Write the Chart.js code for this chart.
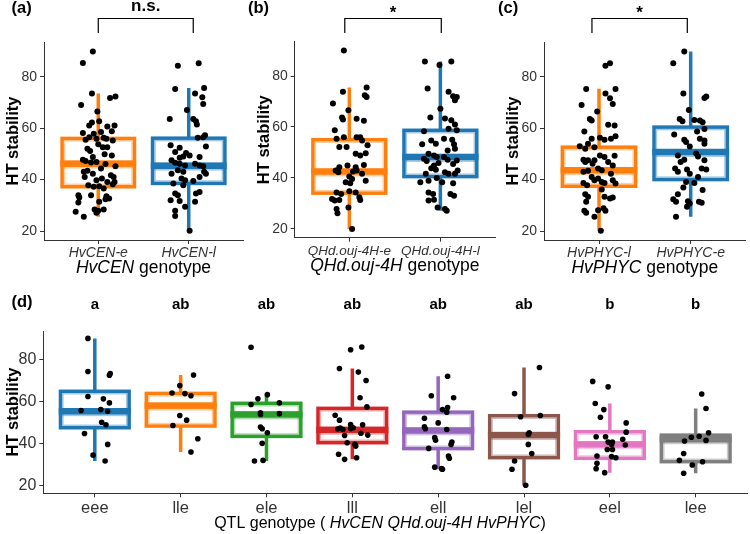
<!DOCTYPE html>
<html>
<head>
<meta charset="utf-8">
<script src="https://cdn.jsdelivr.net/npm/chart.js@4.4.1/dist/chart.umd.min.js"></script>
<style>
  body { margin: 0; background: #fff; }
  #wrap { position: relative; width: 750px; height: 534px; background: #fff; overflow: hidden; }
  canvas { position: absolute; }
</style>
</head>
<body>
<div id="wrap">
  <canvas id="pa" width="246" height="280" style="left:0;top:0"></canvas>
  <canvas id="pb" width="252" height="280" style="left:246px;top:0"></canvas>
  <canvas id="pc" width="254" height="280" style="left:496px;top:0"></canvas>
  <canvas id="pd" width="750" height="254" style="left:0;top:280px"></canvas>
</div>
<script>
// ---- data ----
const catsA = ['HvCEN-e', 'HvCEN-l'];
const catsB = ['QHd.ouj-4H-e', 'QHd.ouj-4H-l'];
const catsC = ['HvPHYC-l', 'HvPHYC-e'];
const catsD = ['eee', 'lle', 'ele', 'lll', 'ell', 'lel', 'eel', 'lee'];
const lettersD = ['a', 'ab', 'ab', 'ab', 'ab', 'ab', 'b', 'b'];
const yTicks = [20, 40, 60, 80];

// box summaries: lower whisker, Q1, median, Q3, upper whisker
const boxA = [[25.5, 37.2, 46.2, 56.0, 73.5], [20.1, 38.5, 45.4, 56.1, 75.6]];
const boxB = [[19.9, 34.0, 42.5, 55.0, 75.5], [27.1, 40.5, 48.2, 58.7, 85.7]];
const boxC = [[20.1, 37.4, 43.6, 52.6, 75.3], [25.5, 40.0, 50.7, 60.4, 89.8]];
const boxD = [
  [31.8, 47.6, 55.4, 64.9, 90.0],
  [36.1, 48.4, 58.1, 63.9, 72.6],
  [31.8, 43.5, 53.9, 59.2, 63.3],
  [32.6, 40.5, 46.6, 56.8, 75.7],
  [27.9, 37.7, 46.3, 55.0, 72.0],
  [20.3, 33.4, 44.1, 53.3, 76.2],
  [26.3, 33.1, 39.7, 45.7, 59.1],
  [26.0, 31.5, 42.1, 44.1, 56.7]
];

// individual HT stability values per group
const htA = [
  [89.8, 85.3, 73.5, 69.0, 66.5, 71.7, 72.3, 62.7, 62.2, 61.0,
   58.1, 60.6, 61.0, 58.8, 55.5, 56.5, 55.9, 56.3, 55.9, 55.2,
   52.0, 51.1, 52.6, 53.7, 49.8, 49.4, 47.7, 47.2, 46.6, 46.8,
   44.3, 45.2, 43.0, 43.4, 42.3, 41.7, 41.0, 40.4, 39.7, 39.1,
   38.2, 37.8, 37.2, 37.4, 36.5, 33.9, 33.0, 33.5, 32.6, 32.3,
   33.9, 31.1, 31.4, 27.5, 28.4, 27.9, 28.4, 27.1, 25.5, 58.5,
   57.8, 52.6, 48.8, 46.1, 41.0, 39.1],
  [84.3, 85.2, 75.2, 73.5, 75.6, 72.0, 69.4, 67.1, 63.6, 63.6,
   62.7, 61.4, 57.2, 56.5, 56.3, 52.9, 53.3, 52.4, 50.7, 50.3,
   49.4, 48.8, 48.5, 49.0, 47.5, 46.5, 46.2, 45.5, 46.2, 45.5,
   45.2, 43.6, 43.0, 43.0, 42.3, 42.3, 40.4, 39.7, 41.0, 39.4,
   38.5, 37.8, 35.2, 34.6, 34.6, 33.9, 32.0, 31.7, 31.4, 29.4,
   27.9, 25.8, 20.1]
];
const htB = [
  [90.0, 73.8, 75.5, 72.5, 71.8, 69.2, 66.6, 63.7, 62.9, 63.2,
   62.4, 58.7, 55.4, 56.0, 56.0, 56.0, 54.7, 52.8, 52.1, 52.1,
   49.5, 48.8, 49.7, 44.2, 44.9, 44.2, 45.1, 42.9, 42.2, 42.5,
   42.9, 41.6, 40.5, 39.6, 38.3, 37.9, 38.9, 34.3, 33.7, 34.7,
   34.3, 32.4, 31.3, 31.7, 31.1, 31.3, 28.4, 27.8, 26.1, 19.9],
  [85.7, 85.7, 84.3, 75.1, 73.8, 72.1, 71.8, 70.5, 67.2, 63.7,
   63.3, 62.6, 58.3, 61.0, 58.7, 59.3, 54.7, 53.4, 55.4, 55.0,
   53.2, 53.2, 50.8, 51.4, 49.5, 48.8, 48.2, 47.5, 46.6, 48.2,
   47.1, 45.8, 44.9, 45.5, 46.8, 43.8, 43.2, 42.2, 41.6, 41.6,
   42.9, 41.6, 40.0, 38.9, 38.3, 38.3, 37.9, 34.3, 33.7, 33.7,
   33.0, 31.1, 31.4, 28.4, 27.8, 27.1]
];
const htC = [
  [84.3, 85.2, 75.2, 75.2, 73.5, 71.6, 69.0, 69.4, 66.5, 63.6,
   63.0, 61.3, 61.0, 58.7, 55.9, 56.3, 55.5, 55.9, 56.8, 53.0,
   53.9, 52.0, 52.6, 49.4, 48.8, 49.3, 47.7, 46.8, 47.5, 47.5,
   46.2, 46.8, 45.5, 43.0, 43.4, 44.3, 43.6, 42.3, 38.7, 41.0,
   39.7, 40.4, 39.1, 38.7, 39.7, 38.5, 37.8, 36.1, 34.3, 33.3,
   33.3, 32.6, 33.0, 31.4, 27.9, 27.1, 28.1, 28.8, 27.9, 25.5,
   20.1],
  [89.8, 85.2, 73.5, 72.3, 71.7, 67.1, 63.6, 62.7, 63.2, 63.0,
   62.3, 59.7, 58.7, 57.5, 55.5, 54.6, 55.9, 55.2, 52.9, 53.9,
   49.4, 46.8, 50.1, 49.0, 47.7, 47.5, 44.3, 43.0, 43.9, 42.3,
   44.3, 43.9, 41.0, 39.1, 38.7, 36.9, 35.9, 34.3, 32.3, 31.4,
   31.6, 30.7, 31.4, 31.0, 29.4, 25.5]
];
const htD = [
  [90.0, 74.3, 72.5, 73.3, 62.4, 61.3, 59.4, 55.8, 56.2, 55.4, 50.2, 49.0, 44.9, 39.7, 34.6, 31.8],
  [72.6, 67.6, 64.1, 63.8, 62.8, 53.4, 51.2, 48.7, 42.4, 36.1],
  [85.8, 58.6, 61.3, 63.3, 54.7, 53.9, 59.4, 54.3, 47.9, 47.1, 45.2, 40.2, 31.8, 32.1],
  [84.6, 85.9, 75.7, 74.0, 70.0, 61.8, 57.5, 53.5, 51.2, 49.1, 49.0, 47.0, 47.4, 46.8, 47.2,
   47.6, 43.9, 45.0, 44.1, 40.5, 39.7, 38.9, 35.0, 32.6, 33.4],
  [72.0, 62.8, 61.8, 56.2, 55.0, 57.2, 52.1, 49.9, 48.0, 47.1, 46.8, 42.9, 41.7, 40.8, 39.7,
   37.8, 34.2, 33.1, 28.9, 28.2, 27.9],
  [76.2, 63.8, 52.8, 53.4, 44.4, 45.2, 39.7, 35.4, 31.8, 27.9, 20.3],
  [69.6, 67.0, 59.1, 56.2, 52.6, 49.9, 45.5, 43.3, 43.3, 42.1, 40.8, 40.8, 39.7, 39.4, 37.3,
   37.3, 33.4, 33.9, 34.2, 30.7, 28.2, 26.3],
  [63.6, 56.7, 45.2, 43.1, 43.6, 41.3, 41.6, 35.4, 32.1, 31.5, 29.9, 26.0]
];

// horizontal jitter of each dot, in category units (as seen in the figure)
const jitA = [
  [-0.06, -0.17, -0.07, -0.19, -0.01, 0.13, 0.19, 0.01, -0.07, -0.10,
   -0.17, 0.10, 0.18, 0.15, -0.14, -0.10, -0.02, 0.06, 0.09, 0.16,
   -0.12, -0.09, 0.05, 0.00, 0.07, 0.15, -0.17, -0.14, -0.08, -0.02,
   0.03, 0.19, -0.16, -0.12, -0.06, 0.14, 0.17, 0.04, -0.02, 0.18,
   0.16, -0.11, -0.05, 0.01, 0.06, -0.22, -0.21, 0.09, 0.12, 0.08,
   -0.08, -0.22, 0.01, -0.25, -0.04, 0.00, 0.06, -0.02, -0.16, 0.03,
   -0.05, 0.10, -0.06, 0.08, -0.15, 0.10],
  [-0.12, 0.11, -0.15, 0.07, 0.17, 0.15, 0.16, -0.02, -0.21, 0.05,
   0.08, 0.09, 0.18, 0.16, 0.10, 0.19, -0.20, -0.10, -0.15, -0.03,
   0.01, 0.12, -0.10, -0.06, -0.19, -0.15, -0.10, -0.04, 0.07, 0.12,
   0.16, -0.12, -0.06, 0.17, 0.19, -0.19, -0.08, -0.04, 0.12, 0.05,
   -0.17, -0.06, 0.12, 0.08, -0.15, -0.12, -0.20, -0.10, 0.07, -0.04,
   -0.15, -0.15, 0.01]
];
const jitB = [
  [-0.06, -0.07, 0.19, 0.17, 0.19, -0.18, -0.01, -0.08, -0.07, 0.08,
   0.16, -0.16, -0.14, -0.06, 0.08, 0.12, 0.14, 0.20, -0.11, -0.03,
   0.07, 0.12, 0.18, -0.11, -0.02, 0.07, 0.16, -0.15, -0.12, 0.04,
   0.08, 0.14, 0.00, 0.03, -0.04, 0.01, 0.18, -0.14, -0.09, 0.00,
   0.07, 0.11, 0.12, -0.19, -0.16, -0.11, -0.01, -0.14, -0.13, 0.03],
  [-0.17, 0.12, -0.01, -0.14, 0.09, 0.14, 0.18, 0.16, 0.00, -0.11,
   0.05, 0.12, -0.18, 0.16, 0.18, 0.09, -0.10, -0.05, 0.04, 0.13,
   -0.20, 0.15, 0.08, 0.16, -0.13, -0.07, -0.04, -0.18, -0.15, 0.04,
   0.08, -0.02, -0.07, 0.14, 0.18, -0.10, -0.05, 0.05, 0.09, 0.16,
   0.19, -0.16, -0.04, -0.13, -0.22, 0.02, 0.14, -0.13, -0.08, 0.11,
   0.15, -0.13, -0.07, -0.03, 0.05, 0.07]
];
const jitC = [
  [0.07, 0.12, -0.14, 0.18, 0.07, 0.12, -0.19, 0.15, -0.02, -0.10,
   -0.08, 0.10, 0.17, -0.16, -0.08, 0.01, 0.06, 0.13, 0.18, -0.21,
   -0.12, -0.15, -0.05, 0.01, 0.06, 0.17, -0.17, -0.15, -0.12, -0.05,
   -0.07, 0.10, 0.15, -0.17, -0.12, -0.01, 0.03, 0.13, -0.17, -0.08,
   -0.05, -0.01, 0.03, 0.06, 0.15, 0.18, -0.13, 0.03, -0.15, -0.12,
   0.06, 0.12, 0.15, -0.14, -0.16, -0.14, -0.01, 0.05, 0.07, -0.05,
   0.02],
  [-0.07, -0.19, -0.08, 0.17, 0.15, -0.02, -0.12, -0.09, 0.04, 0.10,
   0.13, 0.15, 0.07, -0.18, -0.07, -0.05, 0.10, 0.15, -0.01, 0.15,
   -0.14, -0.11, 0.06, 0.08, -0.07, 0.15, -0.17, -0.14, -0.04, -0.01,
   0.12, 0.17, 0.08, -0.05, 0.04, -0.08, 0.13, -0.14, -0.19, -0.16,
   -0.03, -0.01, 0.09, 0.12, -0.04, -0.16]
];
const jitD = [
  [-0.08, -0.08, 0.17, 0.18, -0.08, 0.10, 0.17, -0.16, 0.07, 0.15, 0.08, 0.13, -0.12, 0.15, -0.02, 0.12],
  [0.15, -0.01, -0.10, 0.05, 0.12, -0.01, 0.07, -0.09, 0.20, 0.12],
  [-0.18, -0.18, -0.10, 0.01, -0.07, -0.07, 0.15, 0.15, -0.07, -0.05, 0.01, -0.05, -0.14, -0.04],
  [-0.02, 0.11, -0.15, 0.07, 0.16, 0.09, 0.17, -0.20, -0.15, -0.02, 0.12, -0.17, -0.14, -0.11, -0.02,
   0.01, -0.09, 0.10, 0.18, -0.06, 0.03, 0.04, -0.16, -0.09, 0.05],
  [0.11, -0.08, 0.18, 0.05, 0.10, 0.11, -0.16, 0.00, -0.16, -0.15, 0.10, -0.04, -0.03, 0.16, 0.15,
   -0.11, 0.12, 0.13, -0.04, 0.04, 0.05],
  [0.18, -0.11, -0.04, 0.19, 0.05, 0.06, 0.05, 0.09, -0.11, -0.14, 0.02],
  [-0.20, -0.02, -0.17, -0.07, -0.11, 0.19, 0.19, -0.16, -0.05, 0.15, -0.02, 0.03, 0.02, 0.18, -0.03,
   0.03, 0.07, 0.02, -0.15, -0.15, -0.16, -0.06],
  [0.07, 0.12, 0.15, -0.05, 0.04, -0.13, 0.12, -0.14, -0.19, 0.08, -0.04, -0.14]
];

// ---- styling ----
const FAMILY = "'Liberation Sans', Arial, Helvetica, sans-serif";
const ORANGE = '#ff7f0e', BLUE = '#1f77b4';
const colorsD = ['#1f77b4', '#ff7f0e', '#2ca02c', '#d62728', '#9467bd', '#8c564b', '#e377c2', '#7f7f7f'];
const AXIS = '#333';

Chart.defaults.font.family = FAMILY;
Chart.defaults.color = AXIS;

function light(hex) {
  const r = parseInt(hex.slice(1, 3), 16), g = parseInt(hex.slice(3, 5), 16), b = parseInt(hex.slice(5, 7), 16);
  return 'rgba(' + r + ',' + g + ',' + b + ',0.4)';
}

// boxes and whiskers, drawn under the dots through the chart's scales
function boxPlugin(boxes, colors) {
  return {
    id: 'boxes',
    beforeDatasetsDraw(chart) {
      const { ctx, scales: { x, y } } = chart;
      boxes.forEach((b, i) => {
        const [lo, q1, med, q3, hi] = b;
        const c = colors[i];
        const xc = x.getPixelForValue(i + 1);
        const xl = x.getPixelForValue(i + 1 - 0.4);
        const xr = x.getPixelForValue(i + 1 + 0.4);
        const yLo = y.getPixelForValue(lo), y1 = y.getPixelForValue(q1);
        const yM = y.getPixelForValue(med), y3 = y.getPixelForValue(q3), yHi = y.getPixelForValue(hi);
        ctx.save();
        ctx.strokeStyle = c;
        ctx.lineWidth = 3.5;
        ctx.beginPath();
        ctx.moveTo(xc, yHi); ctx.lineTo(xc, y3);
        ctx.moveTo(xc, y1); ctx.lineTo(xc, yLo);
        ctx.stroke();
        ctx.fillStyle = '#fff';
        ctx.fillRect(xl, y3, xr - xl, y1 - y3);
        ctx.strokeRect(xl, y3, xr - xl, y1 - y3);
        ctx.strokeStyle = light(c);
        ctx.lineWidth = 1.4;
        ctx.strokeRect(xl + 2.5, y3 + 2.5, xr - xl - 5, y1 - y3 - 5);
        ctx.fillStyle = c;
        ctx.fillRect(xl - 1.75, yM - 3.3, xr - xl + 3.5, 6.6);
        ctx.fillStyle = light(c);
        ctx.fillRect(xl + 1.75, yM + 3.3, xr - xl - 3.5, 1.6);
        ctx.restore();
      });
    }
  };
}

function drawMixed(ctx, parts, cx, by, size) {
  const fontOf = p => (p[1] ? 'italic ' : '') + size + 'px ' + FAMILY;
  const widths = parts.map(p => { ctx.font = fontOf(p); return ctx.measureText(p[0]).width; });
  let xx = cx - widths.reduce((a, b) => a + b, 0) / 2;
  ctx.fillStyle = '#000';
  ctx.textAlign = 'left';
  ctx.textBaseline = 'alphabetic';
  parts.forEach((p, i) => { ctx.font = fontOf(p); ctx.fillText(p[0], xx, by); xx += widths[i]; });
}

function drawText(ctx, text, x, y, size, align) {
  ctx.font = 'bold ' + size + 'px ' + FAMILY;
  ctx.fillStyle = '#000';
  ctx.textAlign = align;
  ctx.textBaseline = 'alphabetic';
  ctx.fillText(text, x, y);
}

function drawBracket(chart, from, to, label, labelY) {
  const { ctx, scales: { x } } = chart;
  const x0 = x.getPixelForValue(from), x1 = x.getPixelForValue(to);
  ctx.save();
  ctx.strokeStyle = '#000';
  ctx.lineWidth = 1.2;
  ctx.beginPath();
  ctx.moveTo(x0, 33); ctx.lineTo(x0, 18.5); ctx.lineTo(x1, 18.5); ctx.lineTo(x1, 33);
  ctx.stroke();
  drawText(ctx, label, (x0 + x1) / 2, labelY, 17, 'center');
  ctx.restore();
}

function decorPlugin(fn) {
  return { id: 'decor', afterDraw(chart) { chart.ctx.save(); fn(chart, chart.ctx); chart.ctx.restore(); } };
}

function panel(id, p) {
  const datasets = p.values.map((ys, g) => ({
    data: ys.map((v, k) => ({ x: g + 1 + (p.jitter[g][k] || 0), y: v })),
    pointRadius: p.dot,
    pointHoverRadius: p.dot,
    backgroundColor: '#000',
    borderWidth: 0
  }));
  return new Chart(document.getElementById(id), {
    type: 'scatter',
    data: { datasets },
    options: {
      responsive: false,
      animation: false,
      events: [],
      layout: { padding: { top: p.top, right: p.right, left: 0, bottom: 0 } },
      plugins: { legend: { display: false }, tooltip: { enabled: false } },
      scales: {
        x: {
          type: 'linear',
          min: 0.4,
          max: p.cats.length + 0.6,
          afterBuildTicks: s => { s.ticks = p.cats.map((c, i) => ({ value: i + 1 })); },
          afterFit: s => { s.height = p.xh; },
          ticks: {
            callback: (v, i) => p.cats[i],
            font: p.xFont,
            color: AXIS,
            padding: 1,
            maxRotation: 0,
            minRotation: 0,
            autoSkip: false
          },
          grid: { drawOnChartArea: false, drawTicks: true, tickLength: 4, color: AXIS },
          border: { color: AXIS, width: 1 }
        },
        y: {
          min: 16.5,
          max: 93.5,
          afterBuildTicks: s => { s.ticks = yTicks.map(v => ({ value: v })); },
          afterFit: s => { s.width = p.yw; },
          ticks: { font: { size: p.ySize }, color: AXIS, padding: 3 },
          grid: { drawOnChartArea: false, drawTicks: true, tickLength: 4, color: AXIS },
          border: { color: AXIS, width: 1 },
          title: {
            display: true,
            text: 'HT stability',
            color: '#000',
            font: { size: 16.5, weight: 'bold' },
            padding: { top: p.titlePad, bottom: 0 }
          }
        }
      }
    },
    plugins: [boxPlugin(p.boxes, p.colors), decorPlugin(p.decor)]
  });
}

const centre = c => (c.chartArea.left + c.chartArea.right) / 2;

panel('pa', {
  cats: catsA, values: htA, jitter: jitA, boxes: boxA, colors: [ORANGE, BLUE],
  top: 42, right: 1, yw: 44, xh: 40, ySize: 14, titlePad: 3.1, dot: 3,
  xFont: { size: 14, style: 'italic' },
  decor: (c, ctx) => {
    drawText(ctx, '(a)', 11.5, 13, 16.5, 'left');
    drawBracket(c, 1.0, 2.05, 'n.s.', 11);
    drawMixed(ctx, [['HvCEN', true], [' genotype', false]], centre(c), 272.5, 17.5);
  }
});

panel('pb', {
  cats: catsB, values: htB, jitter: jitB, boxes: boxB, colors: [ORANGE, BLUE],
  top: 41.7, right: 3, yw: 48.7, xh: 42.3, ySize: 14, titlePad: 8.1, dot: 3,
  xFont: { size: 13.5, style: 'italic' },
  decor: (c, ctx) => {
    drawText(ctx, '(b)', 2, 13, 16.5, 'left');
    drawBracket(c, 0.95, 2.01, '*', 17.5);
    drawMixed(ctx, [['QHd.ouj-4H', true], [' genotype', false]], centre(c), 270.5, 17.5);
  }
});

panel('pc', {
  cats: catsC, values: htC, jitter: jitC, boxes: boxC, colors: [ORANGE, BLUE],
  top: 42, right: 4.3, yw: 48, xh: 40, ySize: 14, titlePad: 7.1, dot: 3,
  xFont: { size: 14, style: 'italic' },
  decor: (c, ctx) => {
    drawText(ctx, '(c)', 2, 13, 16.5, 'left');
    drawBracket(c, 0.923, 1.963, '*', 17.5);
    drawMixed(ctx, [['HvPHYC', true], [' genotype', false]], centre(c), 272.5, 17.5);
  }
});

panel('pd', {
  cats: catsD, values: htD, jitter: jitD, boxes: boxD, colors: colorsD,
  top: 51, right: 0, yw: 43.3, xh: 40.7, ySize: 16, titlePad: 3.1, dot: 2.8,
  xFont: { size: 16.5 },
  decor: (c, ctx) => {
    drawText(ctx, '(d)', 11.5, 27, 16.5, 'left');
    lettersD.forEach((t, i) => drawText(ctx, t, c.scales.x.getPixelForValue(i + 1), 29, 15, 'center'));
    drawMixed(ctx, [['QTL genotype ( ', false], ['HvCEN QHd.ouj-4H HvPHYC', true], [')', false]], 380, 248, 16);
  }
});
</script>
</body>
</html>
